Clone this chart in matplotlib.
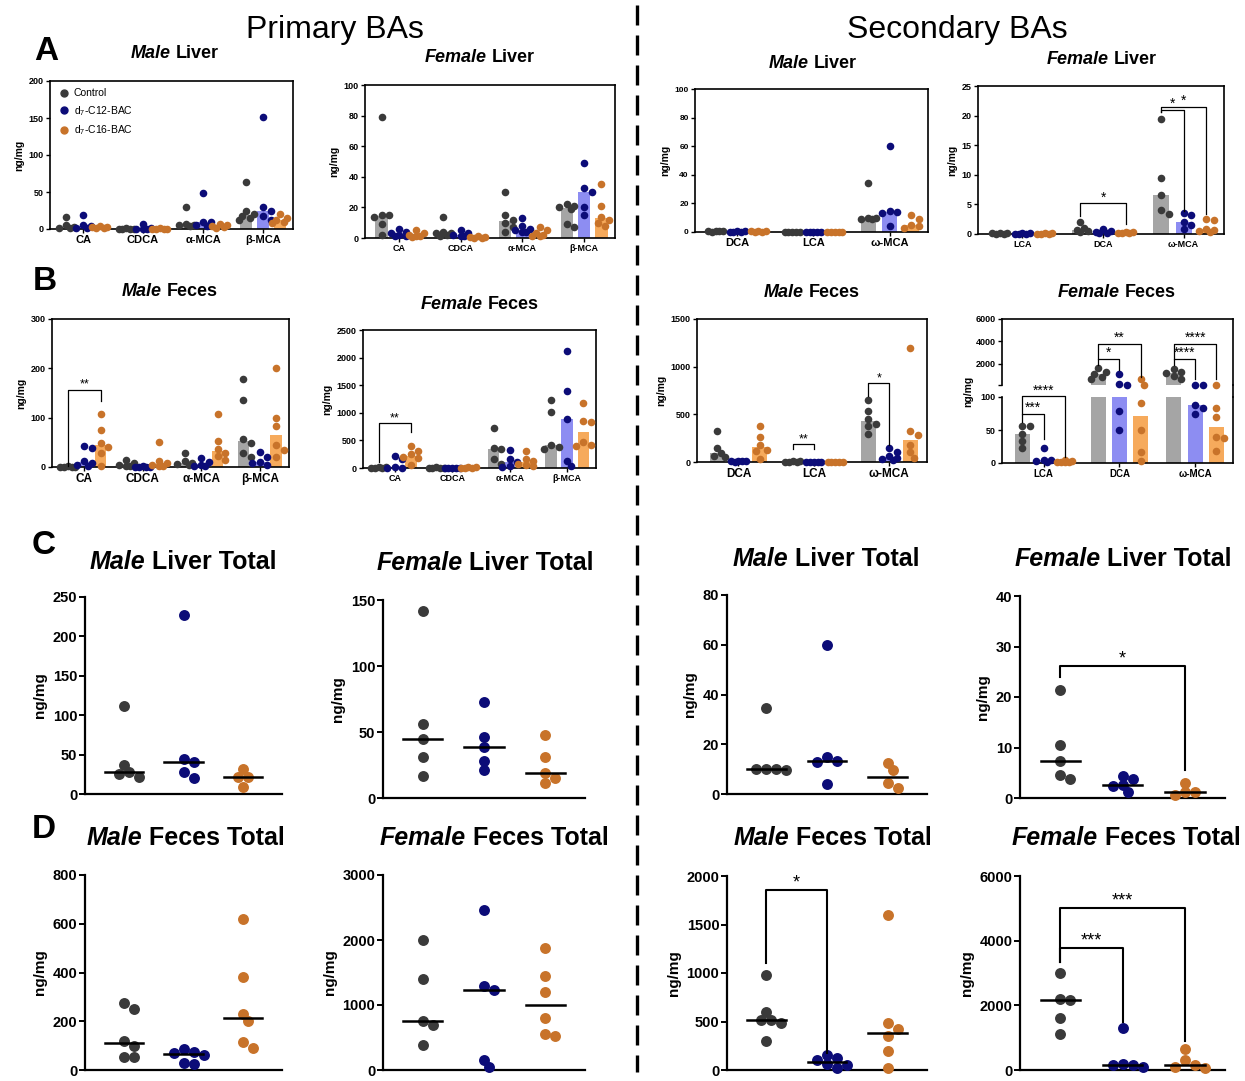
import matplotlib

matplotlib.use("Agg")

import matplotlib.pyplot as plt
import numpy as np
from matplotlib.lines import Line2D

plt.rcParams["font.family"] = ["Liberation Sans", "DejaVu Sans"]
plt.rcParams["mathtext.default"] = "regular"

W, H = 1245, 1081

GROUP_LABELS = ["Control", "d$_7$-C12-BAC", "d$_7$-C16-BAC"]
DOT = ["#3a3a3a", "#0c0c78", "#c8732a"]
BAR = ["#a5a5a5", "#8d8df2", "#f6aa5c"]
OFFS = [-0.28, 0.0, 0.28]

PRIMARY_CATS = ["CA", "CDCA", "α-MCA", "β-MCA"]
SEC_CATS_A = ["DCA", "LCA", "ω-MCA"]
SEC_CATS_B = ["LCA", "DCA", "ω-MCA"]

# A: liver, individual bile acids (ng/mg), one list of points per category
PML_CTRL = [[16, 5, 3, 2, 1], [1.0, 0.6, 0.5, 0.3, 0.2], [30, 7, 6, 5, 4], [64, 25, 20, 17, 15, 12]]
PML_C12 = [[19, 5, 4, 2, 1], [7, 1, 0.5, 0.3, 0.2], [49, 10, 9, 5, 4], [151, 30, 25, 17, 12]]
PML_C16 = [[4, 3, 3, 2, 2], [1, 0.5, 0.5, 0.3, 0.3], [7, 6, 4, 3, 2], [20, 15, 12, 10, 8]]

PFL_CTRL = [[79, 15, 15, 14, 9, 2], [14, 4, 3, 3, 2, 1], [30, 15, 12, 10, 7, 4], [22, 21, 20, 19, 9, 7]]
PFL_C12 = [[6, 4, 3, 2, 1, 1], [5, 3, 2, 1, 1], [13, 8, 6, 5, 4, 4], [49, 33, 30, 20, 15]]
PFL_C16 = [[5, 3, 2, 1, 1, 0.5], [1, 0.5, 0.5, 0.3, 0.3], [7, 5, 3, 2, 1, 1], [35, 21, 14, 12, 10, 8]]

SML_CTRL = [[1, 0.8, 0.5, 0.4, 0.3], [0.2, 0.2, 0.1, 0.1, 0.1], [34, 10, 10, 9, 9]]
SML_C12 = [[0.5, 0.4, 0.3, 0.2, 0.2], [0.2, 0.1, 0.1, 0.1, 0.1], [60, 15, 14, 13, 4]]
SML_C16 = [[0.6, 0.5, 0.4, 0.3, 0.3], [0.2, 0.1, 0.1, 0.1, 0.1], [12, 9, 5, 4, 3]]

SFL_CTRL = [[0.1, 0.1, 0.1, 0.05, 0.05], [2, 1, 0.7, 0.5, 0.4], [19.4, 9.4, 6.6, 4, 3.3]]
SFL_C12 = [[0.1, 0.1, 0.05, 0.05, 0.05], [0.8, 0.5, 0.3, 0.2, 0.2], [3.6, 3.2, 2.1, 1.5, 0.9]]
SFL_C16 = [[0.1, 0.1, 0.05, 0.05, 0.05], [0.4, 0.3, 0.2, 0.2, 0.1], [2.5, 2.4, 0.9, 0.7, 0.5, 0.3]]

# B: feces
PMF_CTRL = [[2, 1, 1, 0.5, 0.5], [15, 8, 5, 3, 2], [29, 12, 8, 6, 4], [178, 136, 57, 49, 28, 20]]
PMF_C12 = [[42, 38, 12, 8, 5, 3], [2, 1, 1, 0.5, 0.5], [18, 10, 5, 3, 2], [30, 20, 10, 8, 5]]
PMF_C16 = [[107, 74, 49, 40, 28, 3], [51, 13, 8, 5, 3, 2], [107, 52, 37, 28, 22, 15], [200, 100, 83, 45, 35, 20]]

PFF_CTRL = [[20, 10, 8, 5, 3], [10, 8, 5, 3, 2], [730, 360, 340, 160, 70], [1240, 1010, 420, 380, 350]]
PFF_C12 = [[220, 170, 10, 5, 3], [5, 3, 2, 1, 1], [330, 170, 100, 40, 20], [2120, 1390, 880, 130, 30]]
PFF_C16 = [[390, 300, 250, 200, 180, 50], [15, 10, 8, 5, 3], [300, 170, 130, 80, 60, 40], [1180, 850, 840, 480, 420, 400]]

SMF_CTRL = [[324, 151, 90, 60, 50], [8, 6, 5, 4, 3], [650, 530, 450, 400, 380, 290]]
SMF_C12 = [[15, 12, 10, 8, 5], [3, 2, 2, 1, 1], [150, 110, 60, 40, 30, 20]]
SMF_C16 = [[380, 260, 180, 130, 120, 30], [5, 4, 3, 2, 2], [1200, 330, 280, 180, 100, 40]]

SFF_CTRL = [[56, 56, 44, 33, 23], [1640, 1300, 1100, 800, 600], [1500, 1300, 1200, 900, 600]]
SFF_C12 = [[22, 5, 4, 3, 2], [1100, 150, 140, 79, 50], [130, 130, 88, 83, 74]]
SFF_C16 = [[4, 3, 2, 1, 1, 1], [600, 130, 91, 50, 17, 3], [120, 83, 70, 40, 38, 18]]

# significance: (category, group a, group b, bracket y, drop a, drop b, label)
PMF_SIG = [(0, 0, 2, 157, 2, 133, "**")]
PFF_SIG = [(0, 0, 2, 810, 100, 650, "**")]
SMF_SIG = [(1, 0, 1, 193, 140, 140, "**"), (2, 0, 1, 830, 690, 180, "*")]
SFL_SIG = [(1, 0, 2, 5.2, 3.0, 1.7, "*"), (2, 0, 1, 21.0, 20.6, 3.9, "*"), (2, 0, 2, 21.5, 20.6, 3.4, "*")]
SFF_SIG = [
    (0, 0, 2, 101, 75, 9, "****"),
    (0, 0, 1, 75, 62, 36, "***"),
    (1, 0, 1, 2450, 1850, 1400, "*"),
    (1, 0, 2, 3800, 2450, 800, "**"),
    (2, 0, 1, 2450, 1850, 650, "****"),
    (2, 0, 2, 3800, 2450, 650, "****"),
]

# C/D: totals per animal (ng/mg)
PMLT = [[112, 37, 28, 26, 22], [227, 45, 40, 28, 20], [32, 22, 22, 9]]
PFLT = [[142, 56, 45, 31, 17], [73, 46, 39, 28, 21], [48, 31, 19, 15, 11]]
SMLT = [[34.5, 10, 10, 10, 9.5], [60, 15, 13.4, 13, 4], [12.5, 9.5, 4.5, 2.5]]
SFLT = [[21.4, 10.4, 7.3, 4.5, 3.7], [4.3, 3.8, 2.5, 2.4, 1.1], [2.9, 1.2, 1.1, 0.6]]
PMFT = [[275, 250, 120, 100, 55, 55], [85, 75, 70, 60, 30, 25], [620, 380, 230, 200, 115, 90]]
PFFT = [[2000, 1400, 760, 700, 380], [2460, 1300, 1230, 160, 40], [1880, 1450, 1200, 800, 560, 530]]
SMFT = [[980, 600, 520, 520, 480, 300], [150, 120, 100, 60, 50, 20], [1600, 480, 420, 350, 200, 20]]
SFFT = [[3000, 2200, 2150, 1600, 1100], [1300, 200, 150, 150, 100], [650, 300, 150, 100, 50]]

# (group a, group b, bracket y, drop a, drop b, label)
SFLT_SIG = [(0, 2, 26.1, 23.9, 5.6, "*")]
SMFT_SIG = [(0, 1, 1851, 1100, 180, "*")]
SFFT_SIG = [(0, 2, 5015, 3340, 900, "***"), (0, 1, 3760, 3340, 1500, "***")]

fig = plt.figure(figsize=(W / 100, H / 100), dpi=100)


def place(x0, y0, x1, y1):
    return fig.add_axes([x0 / W, 1 - y1 / H, (x1 - x0) / W, (y1 - y0) / H])


def swarm(vals, center, ax, d, maxw):
    # simple beeswarm in pixel space, capped at +/- maxw pixels (points overlap past that)
    bb = ax.get_position()
    x0, x1 = ax.get_xlim()
    y0, y1 = ax.get_ylim()
    xpx = bb.width * W / (x1 - x0)
    ypx = bb.height * H / (y1 - y0)
    step = 0.5 * d
    cands = [0.0]
    k = 1
    while k * step <= maxw + 0.01:
        cands += [k * step, -k * step]
        k += 1
    vals = np.asarray(vals, float)
    xs = np.full(len(vals), float(center))
    placed = []
    for i in np.argsort(-vals, kind="stable"):
        y = vals[i] * ypx
        best, best_gap = 0.0, -1.0
        for c in cands:
            gap = min([np.hypot(c - px, y - py) for px, py in placed], default=1e9)
            if gap >= 0.85 * d:
                best = c
                break
            if gap > best_gap:
                best, best_gap = c, gap
        placed.append((best, y))
        xs[i] = center + best / xpx
    return xs


def bracket(ax, xa, xb, y, ya, yb, label, fs, lw):
    ax.plot([xa, xa, xb, xb], [ya, y, y, yb], color="black", lw=lw, clip_on=False, zorder=5)
    ax.annotate(label, ((xa + xb) / 2, y), xytext=(0, -1), textcoords="offset points",
                ha="center", va="bottom", fontsize=fs, annotation_clip=False)


def frame_style(ax, xfs, yfs):
    for s in ax.spines.values():
        s.set_linewidth(1.2)
    ax.tick_params(axis="both", length=3, width=1.0, pad=1.5)
    ax.tick_params(axis="x", labelsize=xfs)
    ax.tick_params(axis="y", labelsize=yfs)
    for lab in ax.get_xticklabels() + ax.get_yticklabels():
        lab.set_fontweight("bold")


def bar_panel(rect, cats, groups, ylim, yticks, xfs, yfs, sig=(), star_fs=9):
    ax = place(*rect)
    ax.set_xlim(-0.55, len(cats) - 0.5)
    ax.set_ylim(*ylim)
    for g, data in enumerate(groups):
        for c, vals in enumerate(data):
            x = c + OFFS[g]
            ax.bar(x, np.median(vals), width=0.2, color=BAR[g], zorder=1)
            ax.scatter(swarm(vals, x, ax, 7.5, 7.5), vals, s=30, color=DOT[g], lw=0, zorder=3, clip_on=False)
    ax.set_xticks(range(len(cats)))
    ax.set_xticklabels(cats)
    ax.set_yticks(yticks)
    ax.set_ylabel("ng/mg", fontsize=7.5, fontweight="bold", labelpad=3)
    frame_style(ax, xfs, yfs)
    for c, ga, gb, y, ya, yb, lab in sig:
        bracket(ax, c + OFFS[ga], c + OFFS[gb], y, ya, yb, lab, star_fs, 0.9)
    return ax


def total_panel(rect, groups, ylim, yticks, sig=()):
    ax = place(*rect)
    ax.set_xlim(-0.65, 2.65)
    ax.set_ylim(*ylim)
    for g, vals in enumerate(groups):
        ax.scatter(swarm(vals, g, ax, 10, 20), vals, s=62, color=DOT[g], lw=0, zorder=3, clip_on=False)
        m = np.median(vals)
        ax.plot([g - 0.32, g + 0.32], [m, m], color="black", lw=1.8, zorder=4)
    ax.set_yticks(yticks)
    ax.set_xticks([])
    for s in ["top", "right"]:
        ax.spines[s].set_visible(False)
    for s in ["left", "bottom"]:
        ax.spines[s].set_linewidth(1.6)
    ax.tick_params(axis="y", labelsize=10.5, length=4, width=1.4, pad=1.5)
    for lab in ax.get_yticklabels():
        lab.set_fontweight("bold")
    ax.set_ylabel("ng/mg", fontsize=11, fontweight="bold", labelpad=4)
    for ga, gb, y, ya, yb, lab in sig:
        bracket(ax, ga, gb, y, ya, yb, lab, 13, 1.5)
    return ax


def title2(x, y, ital, rest, size):
    r = fig.canvas.get_renderer()
    t1 = fig.text(0, 0, ital, fontsize=size, fontweight="bold", style="italic", ha="left", va="center")
    t2 = fig.text(0, 0, rest, fontsize=size, fontweight="bold", ha="left", va="center")
    w1 = t1.get_window_extent(r).width
    w2 = t2.get_window_extent(r).width
    gap = size * 100 / 72 * 0.28
    left = x - (w1 + gap + w2) / 2
    t1.set_position((left / W, 1 - y / H))
    t2.set_position(((left + w1 + gap) / W, 1 - y / H))


# ---- row A ----
ax = bar_panel((50, 81, 293, 229), PRIMARY_CATS, [PML_CTRL, PML_C12, PML_C16],
               (0, 200), [0, 50, 100, 150, 200], 8, 6.5)
handles = [Line2D([], [], ls="", marker="o", ms=5, color=c) for c in DOT]
ax.legend(handles, GROUP_LABELS, loc="upper left", frameon=False, fontsize=7.5,
          handletextpad=0.4, borderaxespad=0.3, labelspacing=0.55, handlelength=1.2)
bar_panel((365, 85, 615, 238), PRIMARY_CATS, [PFL_CTRL, PFL_C12, PFL_C16],
          (0, 100), [0, 20, 40, 60, 80, 100], 6.5, 6.5)
bar_panel((695, 89, 928, 232), SEC_CATS_A, [SML_CTRL, SML_C12, SML_C16],
          (0, 100), [0, 20, 40, 60, 80, 100], 8, 6)
bar_panel((978, 86, 1224, 234), SEC_CATS_B, [SFL_CTRL, SFL_C12, SFL_C16],
          (0, 25), [0, 5, 10, 15, 20, 25], 6.5, 6.5, SFL_SIG, 10)

# ---- row B ----
bar_panel((52, 319, 289, 467), PRIMARY_CATS, [PMF_CTRL, PMF_C12, PMF_C16],
          (0, 300), [0, 100, 200, 300], 8.5, 6.5, PMF_SIG)
bar_panel((363, 330, 596, 468), PRIMARY_CATS, [PFF_CTRL, PFF_C12, PFF_C16],
          (0, 2500), [0, 500, 1000, 1500, 2000, 2500], 6.5, 6.5, PFF_SIG)
bar_panel((697, 319, 927, 462), SEC_CATS_A, [SMF_CTRL, SMF_C12, SMF_C16],
          (0, 1500), [0, 500, 1000, 1500], 8.5, 6.5, SMF_SIG)

# broken-axis panel (female feces, secondary)
ax_t = place(1002, 319, 1233, 385)
ax_b = place(1002, 397, 1233, 463)
for a, lo, hi in [(ax_t, 100, 6000), (ax_b, 0, 100)]:
    a.set_xlim(-0.55, 2.5)
    a.set_ylim(lo, hi)
for g, data in enumerate([SFF_CTRL, SFF_C12, SFF_C16]):
    for c, vals in enumerate(data):
        x = c + OFFS[g]
        med = np.median(vals)
        vals = np.asarray(vals, float)
        for a, sel in [(ax_t, vals >= 100), (ax_b, vals < 100)]:
            a.bar(x, med, width=0.2, color=BAR[g], zorder=1)
            if sel.any():
                a.scatter(swarm(vals[sel], x, a, 7.5, 7.5), vals[sel], s=30, color=DOT[g], lw=0,
                          zorder=3, clip_on=False)
ax_t.set_yticks([100, 2000, 4000, 6000])
ax_t.set_yticklabels(["", "2000", "4000", "6000"])
ax_t.set_xticks([])
ax_t.spines["bottom"].set_visible(False)
ax_b.set_yticks([0, 50, 100])
ax_b.set_xticks(range(3))
ax_b.set_xticklabels(SEC_CATS_B)
ax_b.spines["top"].set_visible(False)
frame_style(ax_t, 7, 6.5)
frame_style(ax_b, 7, 6.5)
ax_t.tick_params(axis="x", length=0)
fig.add_artist(Line2D([1233 / W, 1233 / W], [1 - 385 / H, 1 - 397 / H], color="black", lw=1.2))
fig.text(968 / W, 1 - 391 / H, "ng/mg", rotation=90, fontsize=7.5, fontweight="bold", ha="center", va="center")
for c, ga, gb, y, ya, yb, lab in SFF_SIG:
    a = ax_t if y > 101 else ax_b
    bracket(a, c + OFFS[ga], c + OFFS[gb], y, ya, yb, lab, 10, 0.9)

# ---- rows C and D ----
total_panel((85, 597, 282, 794), PMLT, (0, 250), [0, 50, 100, 150, 200, 250])
total_panel((383, 600, 585, 798), PFLT, (0, 150), [0, 50, 100, 150])
total_panel((727, 595, 927, 794), SMLT, (0, 80), [0, 20, 40, 60, 80])
total_panel((1020, 596, 1225, 798), SFLT, (0, 40), [0, 10, 20, 30, 40], SFLT_SIG)
total_panel((85, 875, 282, 1070), PMFT, (0, 800), [0, 200, 400, 600, 800])
total_panel((383, 875, 585, 1070), PFFT, (0, 3000), [0, 1000, 2000, 3000])
total_panel((727, 876, 927, 1070), SMFT, (0, 2000), [0, 500, 1000, 1500, 2000], SMFT_SIG)
total_panel((1020, 876, 1225, 1070), SFFT, (0, 6000), [0, 2000, 4000, 6000], SFFT_SIG)

# ---- titles and labels ----
fig.text(335 / W, 1 - 30 / H, "Primary BAs", fontsize=23, ha="center", va="center")
fig.text(957 / W, 1 - 30 / H, "Secondary BAs", fontsize=23, ha="center", va="center")
for letter, (lx, ly) in {"A": (46, 51), "B": (45, 281), "C": (44, 545), "D": (44, 830)}.items():
    fig.text(lx / W, 1 - ly / H, letter, fontsize=24, fontweight="bold", ha="center", va="center")

small_titles = [
    (175, 53, "Male", "Liver"), (480, 57, "Female", "Liver"),
    (813, 63, "Male", "Liver"), (1102, 60, "Female", "Liver"),
    (170, 292, "Male", "Feces"), (480, 304, "Female", "Feces"),
    (812, 293, "Male", "Feces"), (1117, 293, "Female", "Feces"),
]
for x, y, a, b in small_titles:
    title2(x, y, a, b, 13)

big_titles = [
    (183, 562, "Male", "Liver Total"), (485, 563, "Female", "Liver Total"),
    (826, 559, "Male", "Liver Total"), (1123, 559, "Female", "Liver Total"),
    (186, 838, "Male", "Feces Total"), (494, 838, "Female", "Feces Total"),
    (833, 838, "Male", "Feces Total"), (1126, 838, "Female", "Feces Total"),
]
for x, y, a, b in big_titles:
    title2(x, y, a, b, 18)

fig.add_artist(Line2D([637 / W, 637 / W], [1 - 5 / H, 1 - 1072 / H], color="black", lw=2.4,
                      dashes=(6, 3)))

fig.savefig("out.png", dpi=100)
